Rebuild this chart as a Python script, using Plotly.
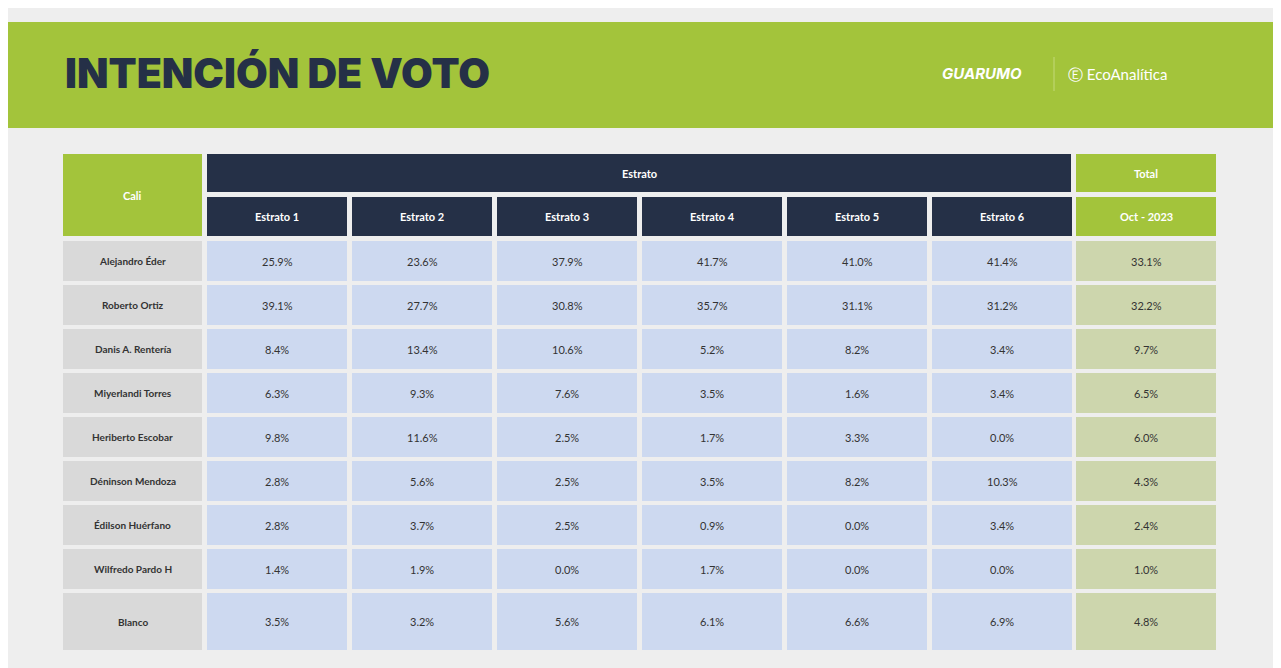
import plotly.graph_objects as go

candidatos = ["Alejandro Éder", "Roberto Ortiz", "Danis A. Rentería", "Miyerlandi Torres",
              "Heriberto Escobar", "Déninson Mendoza", "Édilson Huérfano", "Wilfredo Pardo H", "Blanco"]
estratos = ["Estrato 1", "Estrato 2", "Estrato 3", "Estrato 4", "Estrato 5", "Estrato 6"]
valores = [
    [25.9, 23.6, 37.9, 41.7, 41.0, 41.4],
    [39.1, 27.7, 30.8, 35.7, 31.1, 31.2],
    [8.4, 13.4, 10.6, 5.2, 8.2, 3.4],
    [6.3, 9.3, 7.6, 3.5, 1.6, 3.4],
    [9.8, 11.6, 2.5, 1.7, 3.3, 0.0],
    [2.8, 5.6, 2.5, 3.5, 8.2, 10.3],
    [2.8, 3.7, 2.5, 0.9, 0.0, 3.4],
    [1.4, 1.9, 0.0, 1.7, 0.0, 0.0],
    [3.5, 3.2, 5.6, 6.1, 6.6, 6.9],
]
total = [33.1, 32.2, 9.7, 6.5, 6.0, 4.3, 2.4, 1.0, 4.8]

NAVY = "#253047"
GREEN = "#a3c43b"
BLUE = "#cdd9f0"
GRAY = "#d9d9d9"
OLIVE = "#cdd6ad"
TXT = "#333333"

fig = go.Figure()
shapes, ann = [], []

def cell(x0, x1, y0, y1, color, text, tcolor=TXT, bold=False, size=11):
    shapes.append(dict(type="rect", x0=x0, x1=x1, y0=y0, y1=y1, fillcolor=color,
                       line=dict(width=0), layer="below"))
    ann.append(dict(x=(x0 + x1) / 2, y=(y0 + y1) / 2, text=f"<b>{text}</b>" if bold else text,
                    showarrow=False, font=dict(size=size, color=tcolor, family="Lato")))

# banner
shapes.append(dict(type="rect", x0=0, x1=1290, y0=22, y1=128, fillcolor=GREEN, line=dict(width=0), layer="below"))
ann.append(dict(x=63, y=73, xanchor="left", text="INTENCIÓN DE VOTO", showarrow=False,
                font=dict(size=41, color=NAVY, family="Inter", weight=900)))
ann.append(dict(x=982, y=73, text="<b><i>GUARUMO</i></b>", showarrow=False,
                font=dict(size=15, color="white", family="Inter", weight=900)))
shapes.append(dict(type="line", x0=1054, x1=1054, y0=57, y1=91, line=dict(color="#c3d97a", width=1)))
ann.append(dict(x=1066, y=74, xanchor="left", text="Ⓔ EcoAnalítica", showarrow=False,
                font=dict(size=15, color="white", family="Lato")))

col_x = [63] + [207 + 145 * i for i in range(7)]
col_w = [139] + [140] * 7

# headers
cell(63, 202, 154, 236, GREEN, "Cali", "white", True)
cell(207, 1071, 154, 192, NAVY, "Estrato", "white", True)
cell(1076, 1216, 154, 192, GREEN, "Total", "white", True)
for i, e in enumerate(estratos):
    x0 = col_x[i + 1]
    cell(x0, x0 + col_w[i + 1], 197, 236, NAVY, e, "white", True)
cell(1076, 1216, 197, 236, GREEN, "Oct - 2023", "white", True)

for r, name in enumerate(candidatos):
    y0 = 241 + 44 * r
    y1 = y0 + 40 if r < len(candidatos) - 1 else 650
    cell(63, 202, y0, y1, GRAY, name, TXT, True, 10)
    for c, v in enumerate(valores[r]):
        x0 = col_x[c + 1]
        cell(x0, x0 + col_w[c + 1], y0, y1, BLUE, f"{v:.1f}%")
    cell(1076, 1216, y0, y1, OLIVE, f"{total[r]:.1f}%")

fig.update_layout(
    width=1273, height=660, margin=dict(l=0, r=0, t=0, b=0),
    paper_bgcolor="#eeeeee", plot_bgcolor="#eeeeee",
    xaxis=dict(range=[8, 1281], visible=False, fixedrange=True),
    yaxis=dict(range=[668, 8], visible=False, fixedrange=True),
    shapes=shapes, annotations=ann, showlegend=False,
)
fig.write_html("out.html")
